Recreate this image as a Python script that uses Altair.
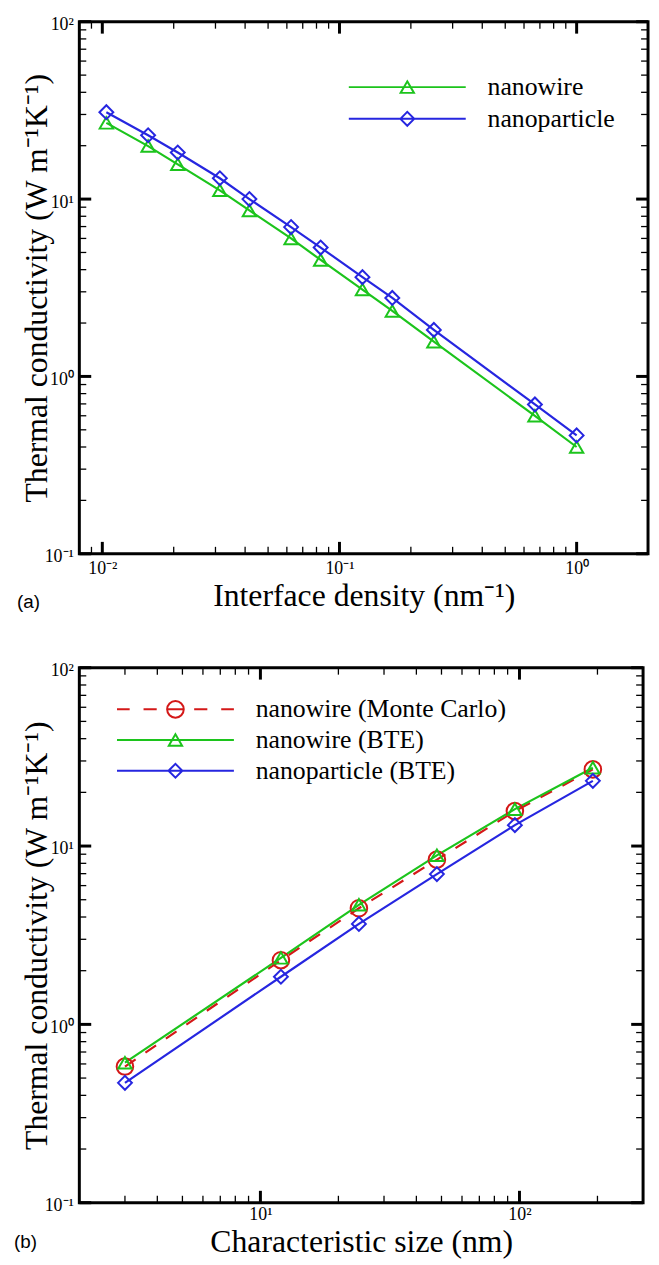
import altair as alt
import pandas as pd

# ---------------- data: panel (a) ----------------
density = [0.0104, 0.0156, 0.0208, 0.0313, 0.0417, 0.0625, 0.0833, 0.125, 0.167, 0.25, 0.667, 1.0]
k_nanowire_a = [26.9, 19.9, 15.7, 11.2, 8.63, 6.0, 4.54, 3.09, 2.34, 1.57, 0.60, 0.40]
k_nanoparticle_a = [30.9, 22.9, 18.3, 13.1, 10.0, 6.95, 5.33, 3.63, 2.77, 1.83, 0.695, 0.465]
series_a = ["nanowire", "nanoparticle"]

# ---------------- data: panel (b) ----------------
char_size = [3, 12, 24, 48, 96, 192]
k_mc_b = [0.58, 2.29, 4.48, 8.39, 15.7, 26.9]
k_nw_bte_b = [0.61, 2.36, 4.68, 8.87, 16.1, 27.5]
k_np_bte_b = [0.47, 1.85, 3.66, 6.96, 13.1, 23.2]
series_b = ["nanowire (Monte Carlo)", "nanowire (BTE)", "nanoparticle (BTE)"]

# ---------------- ticks / labels ----------------
x_major_a = [0.01, 0.1, 1.0]
x_labels_a = ["10⁻²", "10⁻¹", "10⁰"]
x_minor_a = [0.009, 0.02, 0.03, 0.04, 0.05, 0.06, 0.07, 0.08, 0.09,
             0.2, 0.3, 0.4, 0.5, 0.6, 0.7, 0.8, 0.9]
x_major_b = [10, 100]
x_labels_b = ["10¹", "10²"]
x_minor_b = [3, 4, 5, 6, 7, 8, 9, 20, 30, 40, 50, 60, 70, 80, 90, 200]
y_major = [0.1, 1, 10, 100]
y_labels = ["10⁻¹", "10⁰", "10¹", "10²"]
y_minor = [0.2, 0.3, 0.4, 0.5, 0.6, 0.7, 0.8, 0.9,
           2, 3, 4, 5, 6, 7, 8, 9,
           20, 30, 40, 50, 60, 70, 80, 90]
panel_labels = ["(a)", "(b)"]

GREEN = "#1cc41c"
BLUE = "#2626e0"
RED = "#d41818"
SERIF = "Liberation Serif"

# legend symbols: line with marker in the middle (unit = 7 px at size 196)
L = 8.43
PATH_TRI = f"M-{L},0H{L}M0,-0.83L0.96,0.83L-0.96,0.83Z"
PATH_DIA = f"M-{L},0H{L}M-1,0L0,-1L1,0L0,1Z"
PATH_CIR_DASH = (f"M-{L},0H-6.6M-4.6,0H-2.7M2.7,0H4.6M6.6,0H{L}"
                 "M-1.2,0H1.2M1.2,0A1.2,1.2 0 1,1 -1.2,0A1.2,1.2 0 1,1 1.2,0Z")


def label_expr(vals, labels):
    expr = f"'{labels[-1]}'"
    for v, lab in reversed(list(zip(vals[:-1], labels[:-1]))):
        expr = f"abs(datum.value - {v}) < {v * 0.01} ? '{lab}' : " + expr
    return expr


def x_axis(title, vals, labels, W, title_y, label_pad):
    return alt.Axis(values=vals, labelExpr=label_expr(vals, labels), title=title,
                    ticks=False, domain=False, grid=False,
                    labelFont=SERIF, labelFontSize=18, labelColor="black", labelPadding=label_pad,
                    labelFlush=False, labelOverlap=False,
                    titleFont=SERIF, titleFontSize=32, titleFontWeight="normal", titleColor="black",
                    titleX=W / 2, titleY=title_y, titleAlign="center", titleBaseline="alphabetic")


def y_axis(H):
    return alt.Axis(values=y_major, labelExpr=label_expr(y_major, y_labels),
                    title="Thermal conductivity (W m⁻¹K⁻¹)",
                    ticks=False, domain=False, grid=False,
                    labelFont=SERIF, labelFontSize=18, labelColor="black", labelPadding=6,
                    labelOffset=3, labelFlush=False, labelOverlap=False,
                    titleFont=SERIF, titleFontSize=32, titleFontWeight="normal", titleColor="black",
                    titleAngle=270, titleX=-33, titleY=H / 2, titleAlign="center",
                    titleBaseline="alphabetic")


def tick_layers(xmaj, xmin, xsc, xax, ysc, yax, W, H):
    layers = []
    for vals, length, sw in [(xmaj, 12, 3), (xmin, 7, 1.3)]:
        df = pd.DataFrame({"x": vals})
        base = alt.Chart(df).mark_rule(color="black", strokeWidth=sw)
        xe = alt.X("x:Q", scale=xsc, axis=xax)
        layers.append(base.encode(x=xe, y=alt.value(H), y2=alt.value(H - length)))
        layers.append(base.encode(x=xe, y=alt.value(0), y2=alt.value(length)))
    for vals, length, sw in [(y_major, 12, 3), (y_minor, 7, 1.3)]:
        df = pd.DataFrame({"y": vals})
        base = alt.Chart(df).mark_rule(color="black", strokeWidth=sw)
        ye = alt.Y("y:Q", scale=ysc, axis=yax)
        layers.append(base.encode(y=ye, x=alt.value(0), x2=alt.value(length)))
        layers.append(base.encode(y=ye, x=alt.value(W), x2=alt.value(W - length)))
    return layers


def panel(xvals, ylists, names, colors, shapes, sizes, dashes, paths,
          xsc, xax, ysc, yax, W, H, leg_x, leg_y, row_pad, plabel, plabel_x, plabel_y,
          xmaj, xmin):
    rows = []
    for name, ys in zip(names, ylists):
        for xv, yv in zip(xvals, ys):
            rows.append({"x": xv, "y": yv, "series": name})
    df = pd.DataFrame(rows)
    xe = alt.X("x:Q", scale=xsc, axis=xax)
    ye = alt.Y("y:Q", scale=ysc, axis=yax)
    layers = tick_layers(xmaj, xmin, xsc, xax, ysc, yax, W, H)
    for name, col, dash in zip(names, colors, dashes):
        kw = {"strokeDash": dash} if dash else {}
        layers.append(alt.Chart(df).transform_filter(alt.datum.series == name)
                      .mark_line(color=col, strokeWidth=2.2, **kw).encode(x=xe, y=ye))
    for name, col, shp, sz in zip(names, colors, shapes, sizes):
        layers.append(alt.Chart(df).transform_filter(alt.datum.series == name)
                      .mark_point(shape=shp, size=sz, filled=False, color=col,
                                  strokeWidth=2, opacity=1).encode(x=xe, y=ye))
    leg = alt.Legend(orient="none", legendX=leg_x, legendY=leg_y, title=None,
                     labelFont=SERIF, labelFontSize=26, labelColor="black", labelLimit=0,
                     labelOffset=68, symbolSize=196, symbolStrokeWidth=2,
                     symbolFillColor="transparent", rowPadding=row_pad, padding=0)
    layers.append(alt.Chart(df).transform_filter("false")
                  .mark_point(filled=False, size=196, strokeWidth=2, opacity=1)
                  .encode(x=xe, y=ye,
                          color=alt.Color("series:N", scale=alt.Scale(domain=names, range=colors), legend=leg),
                          shape=alt.Shape("series:N", scale=alt.Scale(domain=names, range=paths), legend=leg)))
    layers.append(alt.Chart(pd.DataFrame({"label": [plabel]}))
                  .mark_text(font="Liberation Sans", fontSize=19, align="left", baseline="middle", color="black")
                  .encode(text="label:N", x=alt.value(plabel_x), y=alt.value(plabel_y)))
    return alt.layer(*layers).properties(width=W, height=H)


WA, HA = 574, 537
WB, HB = 569, 540
xs_a = alt.Scale(type="log", domain=[0.008, 2], nice=False)
xs_b = alt.Scale(type="log", domain=[2, 300], nice=False)
ys_a = alt.Scale(type="log", domain=[0.1, 100], nice=False)
ys_b = alt.Scale(type="log", domain=[0.1, 100], nice=False)

top = panel(density, [k_nanowire_a, k_nanoparticle_a], series_a, [GREEN, BLUE],
            ["triangle-up", "diamond"], [180, 196], [None, None], [PATH_TRI, PATH_DIA],
            xs_a, x_axis("Interface density (nm⁻¹)", x_major_a, x_labels_a, WA, 52, 6),
            ys_a, y_axis(HA), WA, HA, 318, 53, 6, panel_labels[0], -63, 585.5,
            x_major_a, x_minor_a)

bottom = panel(char_size, [k_mc_b, k_nw_bte_b, k_np_bte_b], series_b, [RED, GREEN, BLUE],
               ["circle", "triangle-up", "diamond"], [280, 180, 196], [[13, 12], None, None],
               [PATH_CIR_DASH, PATH_TRI, PATH_DIA],
               xs_b, x_axis("Characteristic size (nm)", x_major_b, x_labels_b, WB, 49, 3),
               ys_b, y_axis(HB), WB, HB, 84, 29, 5, panel_labels[1], -66, 580,
               x_major_b, x_minor_b)

chart = (alt.vconcat(top, bottom, spacing=47)
         .resolve_scale(color="independent", shape="independent")
         .resolve_legend(color="independent", shape="independent")
         .properties(padding={"left": 4, "top": 0, "right": 0, "bottom": 0}, background="white")
         .configure_view(stroke="black", strokeWidth=3))

chart.save("out.html", embed_options={"renderer": "svg", "actions": False})
